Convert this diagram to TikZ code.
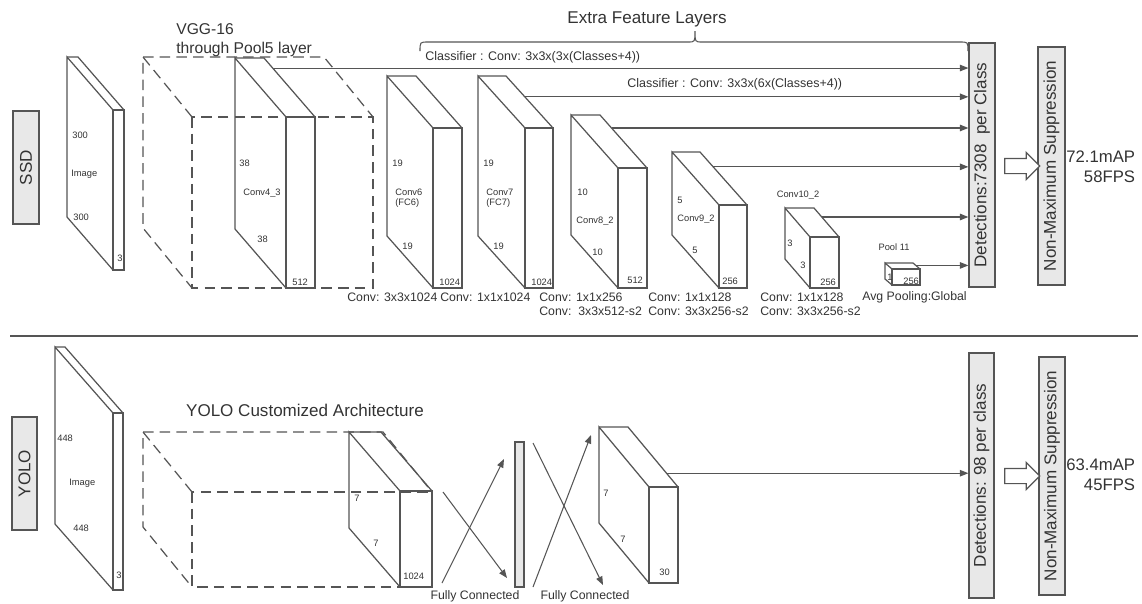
\documentclass[tikz,border=0pt]{standalone}
\usepackage{fontspec}
\setmainfont{Liberation Sans}
\usepackage{tikz}
\usetikzlibrary{arrows.meta,shapes.arrows}
\definecolor{ink}{HTML}{555555}
\definecolor{txt}{HTML}{333333}
\definecolor{boxbg}{HTML}{E8E8E8}

% front face from (x0,y0) to (x1,y1), back face shifted by (-dx,-dy)
\newcommand{\layerbox}[8][]{%
  \draw[lyr,#1] (#3,#4) rectangle (#5,#6);
  \draw[lyr,#1] (#3,#4) -- ++(-#7,-#8) coordinate (#2-bnw)
    -- ++(0,#6-#4) -- ++(#7,#8);
  \draw[lyr,#1] (#2-bnw) -- ++(#5-#3,0) coordinate (#2-bne) -- (#5,#4);
  \coordinate (#2-ne) at (#5,#4);
}

\begin{document}
\begin{tikzpicture}[
  x=0.02cm,y=-0.02cm,
  lyr/.style={draw=ink,line width=0.7pt},
  vggdash/.style={dash pattern=on 6pt off 3.5pt},
  arr/.style={-{Triangle[length=1.7mm,width=1.3mm]},ink,line width=0.6pt},
  bar/.style={draw=ink,fill=boxbg,rotate=90,inner sep=0pt,line width=0.7pt,
              text=txt,font=\fontsize{9.7}{11}\selectfont},
  dimlbl/.style={font=\fontsize{5.3}{6}\selectfont,text=txt,inner sep=0pt,anchor=west},
  convlbl/.style={font=\fontsize{7}{7.9}\selectfont,text=txt,inner sep=0pt,anchor=west,align=left},
  head/.style={font=\fontsize{9.7}{11}\selectfont,text=txt,inner sep=0pt},
  result/.style={font=\fontsize{9.5}{11.3}\selectfont,text=txt,inner sep=0pt,anchor=west,align=right},
  nmsarrow/.style={single arrow,draw=ink,fill=white,line width=0.7pt,minimum height=0.7cm,
                   inner xsep=0pt,inner ysep=0.14cm,single arrow head extend=0.12cm}
]
\useasboundingbox (0,0) rectangle (1142,603);

% ---------------- SSD ----------------
\node[bar,minimum width=2.26cm,minimum height=0.52cm] (ssd) at (26,167.5) {SSD};

\layerbox{img1}{113}{110}{124}{270}{46}{53}
\node[dimlbl] (img1h) at (72,135) {300};
\node[dimlbl] (img1t) at (71,174) {Image};
\node[dimlbl] (img1w) at (73,217) {300};
\node[dimlbl] (img1c) at (117,258) {3};

\layerbox[vggdash]{vgg}{192}{117}{373}{288}{49}{60}
\node[head,anchor=west,align=left,font=\fontsize{8.9}{10.8}\selectfont] (vggtxt) at (176,40)
  {VGG-16\\through Pool5 layer};

\layerbox{c43}{286}{117}{315}{288}{51}{59}
\node[dimlbl] (c43h) at (239,163) {38};
\node[dimlbl] (c43t) at (243,193) {Conv4\_3};
\node[dimlbl] (c43w) at (257,239) {38};
\node[dimlbl] (c43c) at (292,282) {512};

\layerbox{fc6}{433}{128}{462}{288}{46}{52}
\node[dimlbl] (fc6h) at (392,163) {19};
\node[dimlbl,align=left] (fc6t) at (395,198) {Conv6\\(FC6)};
\node[dimlbl] (fc6w) at (402,246) {19};
\node[dimlbl] (fc6c) at (439,282) {1024};

\layerbox{fc7}{525}{128}{553}{288}{47}{52}
\node[dimlbl] (fc7h) at (483,163) {19};
\node[dimlbl,align=left] (fc7t) at (486,198) {Conv7\\(FC7)};
\node[dimlbl] (fc7w) at (493,246) {19};
\node[dimlbl] (fc7c) at (531,282) {1024};

\layerbox{c82}{618}{168}{647}{288}{47}{53}
\node[dimlbl] (c82h) at (577,192) {10};
\node[dimlbl] (c82t) at (576,221) {Conv8\_2};
\node[dimlbl] (c82w) at (592,252) {10};
\node[dimlbl] (c82c) at (627,280) {512};

\layerbox{c92}{719}{205}{747}{288}{47}{53}
\node[dimlbl] (c92h) at (677,200) {5};
\node[dimlbl] (c92t) at (677,219) {Conv9\_2};
\node[dimlbl] (c92w) at (692,250) {5};
\node[dimlbl] (c92c) at (722,281) {256};

\layerbox{c102}{810}{237}{839}{288}{25}{29}
\node[dimlbl,anchor=center] (c102t) at (798,195) {Conv10\_2};
\node[dimlbl] (c102h) at (787,243) {3};
\node[dimlbl] (c102w) at (800,265) {3};
\node[dimlbl] (c102c) at (820,282) {256};

\layerbox{p11}{892}{269}{920}{285}{7}{6}
\node[dimlbl,anchor=center] (p11t) at (894,247) {Pool 11};
\node[dimlbl] (p11h) at (887,277) {1};
\node[dimlbl] (p11c) at (903,281) {256};

\node[convlbl] (cv6) at (347,297) {Conv: 3x3x1024};
\node[convlbl] (cv7) at (440,297) {Conv: 1x1x1024};
\node[convlbl] (cv8) at (539,304) {Conv: 1x1x256\\Conv:~~3x3x512-s2};
\node[convlbl] (cv9) at (648,304) {Conv: 1x1x128\\Conv: 3x3x256-s2};
\node[convlbl] (cv10) at (760,304) {Conv: 1x1x128\\Conv: 3x3x256-s2};
\node[convlbl] (cv11) at (862,297) {Avg Pooling:Global};

\node[bar,minimum width=4.88cm,minimum height=0.52cm] (det1) at (982,165) {Detections:7308~~per Class};
\node[bar,minimum width=4.76cm,minimum height=0.54cm] (nms1) at (1051.5,166) {Non-Maximum Suppression};
\node[nmsarrow] (sup1) at (1018.5,166) {};
\node[result] (res1) at (1066,167) {72.1mAP\\58FPS};

\node[head] (xtra) at (647,19) {Extra Feature Layers};
\draw[ink,line width=0.6pt] (420,51) .. controls (420,42) .. (428,42) -- (688,42)
  .. controls (695,42) .. (695,31) .. controls (695,42) .. (702,42) -- (960,42)
  .. controls (968,42) .. (968,51);

\path (c43-bne) -- (c43-ne) coordinate[pos=0.17] (c43-out);
\path (fc7-bne) -- (fc7-ne) coordinate[pos=0.40] (fc7-out);
\path (c82-bne) -- (c82-ne) coordinate[pos=0.245] (c82-out);
\path (c92-bne) -- (c92-ne) coordinate[pos=0.28] (c92-out);
\path (c102-bne) -- (c102-ne) coordinate[pos=0.31] (c102-out);
\path (p11-bne) -- (p11-ne) coordinate[pos=0.4] (p11-out);
\draw[arr] (c43-out) -- (det1.north |- c43-out);
\draw[arr] (fc7-out) -- (det1.north |- fc7-out);
\draw[arr] (c82-out) -- (det1.north |- c82-out);
\draw[arr] (c92-out) -- (det1.north |- c92-out);
\draw[arr] (c102-out) -- (det1.north |- c102-out);
\draw[arr] (p11-out) -- (det1.north |- p11-out);
\node[convlbl,font=\fontsize{7.1}{8}\selectfont] (cls1) at (425,57) {Classifier : Conv: 3x3x(3x(Classes+4))};
\node[convlbl,font=\fontsize{7.1}{8}\selectfont] (cls2) at (627,84) {Classifier : Conv: 3x3x(6x(Classes+4))};

\draw[ink,line width=1.1pt] (10,336) -- (1138,336);

% ---------------- YOLO ----------------
\node[bar,minimum width=2.26cm,minimum height=0.5cm] (yolo) at (24.5,473.5) {YOLO};

\layerbox{img2}{113}{413}{123}{590}{58}{66}
\node[dimlbl] (img2h) at (57,438) {448};
\node[dimlbl] (img2t) at (69,483) {Image};
\node[dimlbl] (img2w) at (73,528) {448};
\node[dimlbl] (img2c) at (116,575) {3};

\layerbox[vggdash]{cust}{192}{492}{432}{587}{49}{60}
\node[head] (custtxt) at (305,410) {YOLO Customized Architecture};

\layerbox{c77}{400}{491}{432}{587}{51}{59}
\node[dimlbl] (c77h) at (354,498) {7};
\node[dimlbl] (c77w) at (373,543) {7};
\node[dimlbl] (c77c) at (403,576) {1024};

\node[draw=ink,fill=boxbg,line width=0.7pt,minimum width=0.18cm,minimum height=2.9cm,inner sep=0pt]
  (fcbar) at (519.5,514.5) {};
\coordinate (fc1a) at (442,583);
\coordinate (fc1b) at (504,459);
\coordinate (fc2a) at (443,492);
\coordinate (fc2b) at (507,578);
\coordinate (fc3a) at (533,443);
\coordinate (fc3b) at (603,585);
\coordinate (fc4a) at (533,587);
\coordinate (fc4b) at (591,435);
\draw[arr] (fc1a) -- (fc1b);
\draw[arr] (fc2a) -- (fc2b);
\draw[arr] (fc3a) -- (fc3b);
\draw[arr] (fc4a) -- (fc4b);
\node[convlbl,anchor=center] (fcl1) at (475,596) {Fully Connected};
\node[convlbl,anchor=center] (fcl2) at (585,596) {Fully Connected};

\layerbox{out7}{649}{487}{678}{583}{50}{60}
\node[dimlbl] (out7h) at (603,493) {7};
\node[dimlbl] (out7w) at (620,539) {7};
\node[dimlbl] (out7c) at (659,572) {30};

\node[bar,minimum width=4.9cm,minimum height=0.5cm] (det2) at (981.5,475.5) {Detections: 98 per class};
\node[bar,minimum width=4.76cm,minimum height=0.52cm] (nms2) at (1052,476) {Non-Maximum Suppression};
\node[nmsarrow] (sup2) at (1018.5,476) {};
\node[result] (res2) at (1066,475) {63.4mAP\\45FPS};

\path (out7-bne) -- (out7-ne) coordinate[pos=0.77] (out7-out);
\draw[arr] (out7-out) -- (det2.north |- out7-out);
\end{tikzpicture}
\end{document}
